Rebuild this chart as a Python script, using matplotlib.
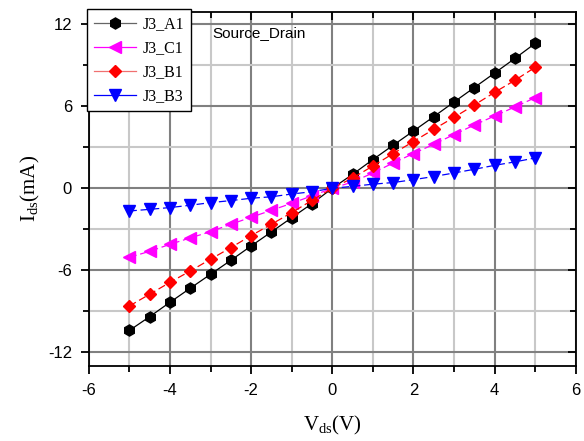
import numpy as np
import matplotlib
matplotlib.use('Agg')
import matplotlib.pyplot as plt
from matplotlib.ticker import MultipleLocator

plt.rcParams['axes.unicode_minus'] = False

# Drain voltage sweep (V)
vds = [-5, -4.5, -4, -3.5, -3, -2.5, -2, -1.5, -1, -0.5,
       0, 0.5, 1, 1.5, 2, 2.5, 3, 3.5, 4, 4.5, 5]

# Drain current (mA) per device
j3_a1 = [-10.4, -9.39, -8.34, -7.31, -6.29, -5.27, -4.22, -3.19, -2.15, -1.12,
         0, 1.02, 2.10, 3.15, 4.19, 5.24, 6.31, 7.37, 8.43, 9.5, 10.6]
j3_c1 = [-5.05, -4.61, -4.10, -3.63, -3.17, -2.63, -2.12, -1.61, -1.1, -0.55,
         0, 0.46, 1.12, 1.85, 2.54, 3.22, 3.93, 4.63, 5.29, 5.95, 6.63]
j3_b1 = [-8.61, -7.75, -6.88, -6.05, -5.19, -4.34, -3.46, -2.63, -1.78, -0.88,
         0, 0.75, 1.63, 2.54, 3.42, 4.32, 5.19, 6.09, 7.02, 7.9, 8.85]
j3_b3 = [-1.66, -1.54, -1.41, -1.24, -1.05, -0.90, -0.73, -0.62, -0.42, -0.25,
         0, 0.14, 0.3, 0.42, 0.63, 0.86, 1.12, 1.39, 1.68, 1.93, 2.22]

serif = 'Liberation Serif'
sans = 'Liberation Sans'

fig = plt.figure(figsize=(5.84, 4.41), dpi=100)
ax = fig.add_axes([0.152, 0.170, 0.834, 0.803])

# Grid: darker at major ticks, lighter at minor ticks
ax.xaxis.set_major_locator(MultipleLocator(2))
ax.xaxis.set_minor_locator(MultipleLocator(1))
ax.yaxis.set_major_locator(MultipleLocator(6))
ax.yaxis.set_minor_locator(MultipleLocator(3))
ax.grid(which='major', color='#808080', lw=1.5)
ax.grid(which='minor', color='#c8c8c8', lw=1.5)
ax.set_axisbelow(True)

ms = 7
ax.plot(vds, j3_a1, color='black', lw=0.9, marker='h', ms=ms + 1,
        mec='black', mfc='black', label='J3_A1')
ax.plot(vds, j3_c1, color='magenta', lw=0.9, ls=(0, (6, 3)), marker='<', ms=ms + 1,
        mec='magenta', mfc='magenta', label='J3_C1')
ax.plot(vds, j3_b1, color='red', lw=0.9, ls=(0, (6, 3)), marker='D', ms=ms - 0.5,
        mec='red', mfc='red', label='J3_B1')
ax.plot(vds, j3_b3, color='blue', lw=0.9, ls=(0, (6, 3)), marker='v', ms=ms + 1,
        mec='blue', mfc='blue', label='J3_B3')

ax.set_xlim(-6, 6)
ax.set_ylim(-13.0, 12.9)

for s in ax.spines.values():
    s.set_linewidth(1.3)

ax.tick_params(which='both', direction='out', width=1.3, labelsize=12, pad=6)
ax.tick_params(which='both', top=True, right=True)
ax.tick_params(which='major', length=6)
ax.tick_params(which='minor', length=4)
for lab in ax.get_xticklabels() + ax.get_yticklabels():
    lab.set_fontfamily(sans)
# top/right ticks point inward
for t in ax.xaxis.get_major_ticks() + ax.xaxis.get_minor_ticks():
    t.tick2line.set_marker(matplotlib.lines.TICKDOWN)
for t in ax.yaxis.get_major_ticks() + ax.yaxis.get_minor_ticks():
    t.tick2line.set_marker(matplotlib.lines.TICKLEFT)

ax.set_xlabel(r'V$_{\mathregular{ds}}$(V)', fontfamily=serif, fontsize=15, labelpad=12)
ax.set_ylabel(r'I$_{\mathregular{ds}}$(mA)', fontfamily=serif, fontsize=15, labelpad=4)

ax.text(0.254, 0.94, 'Source_Drain', transform=ax.transAxes, fontfamily=sans,
        fontsize=11, va='center')

leg = ax.legend(loc='upper left', bbox_to_anchor=(-0.003, 1.008), fancybox=False,
                framealpha=1, edgecolor='black', prop={'family': serif, 'size': 11.5},
                handlelength=2.6, borderpad=0.45, labelspacing=0.5,
                handletextpad=0.4, borderaxespad=0)
leg.get_frame().set_linewidth(1.0)
legend_line_colors = ['#666666', 'magenta', '#f07070', 'blue']
for h, c in zip(leg.legend_handles, legend_line_colors):
    h.set_color(c)
    h.set_linestyle('-')
leg.legend_handles[0].set_markerfacecolor('black')
leg.legend_handles[0].set_markeredgecolor('black')
leg.legend_handles[2].set_markerfacecolor('red')
leg.legend_handles[2].set_markeredgecolor('red')

fig.savefig('out.png', dpi=100)
